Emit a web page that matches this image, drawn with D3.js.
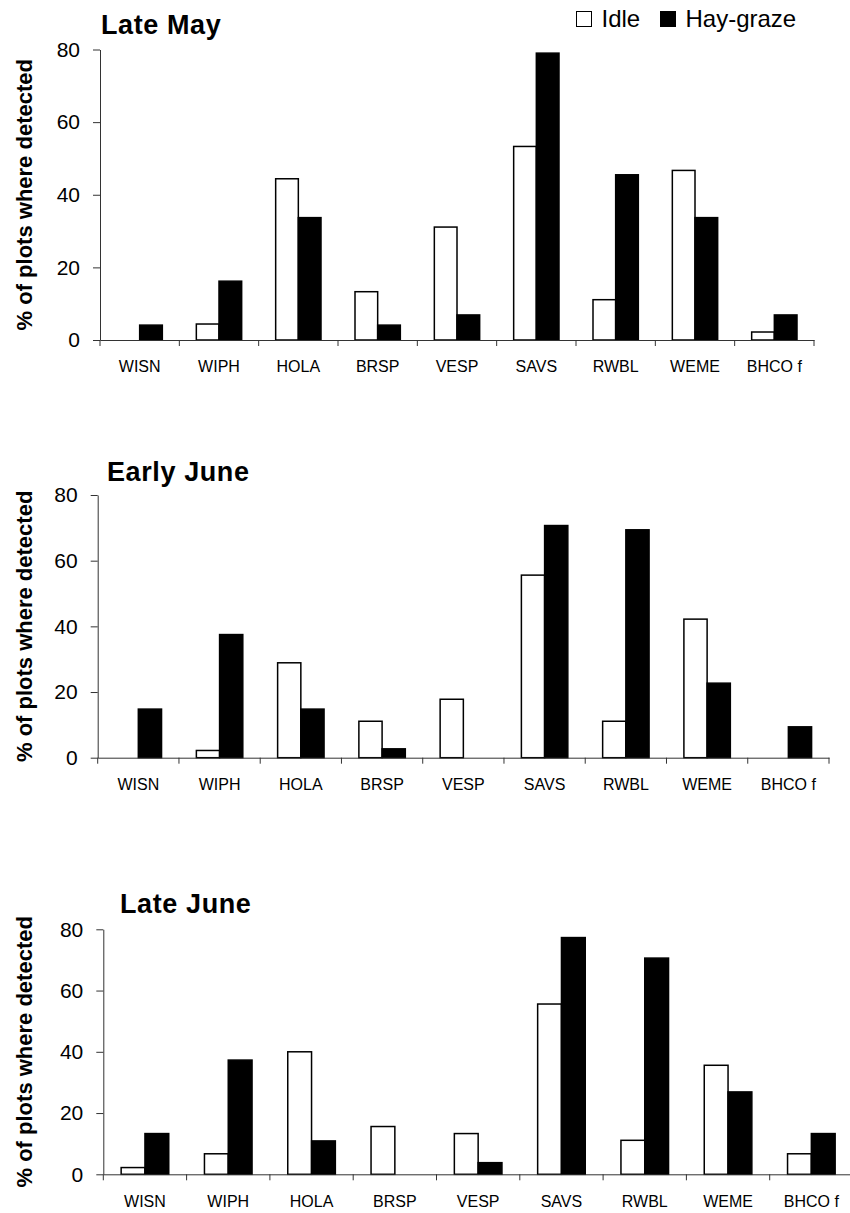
<!DOCTYPE html>
<html>
<head>
<meta charset="utf-8">
<script src="https://cdn.jsdelivr.net/npm/d3@7"></script>
<style>
  html, body { margin: 0; padding: 0; background: #fff; }
  svg { display: block; font-family: "Liberation Sans", Arial, Helvetica, sans-serif; }
</style>
</head>
<body>
<svg id="chart" width="850" height="1213"></svg>
<script>
// Species codes along the x axis
const species = ["WISN", "WIPH", "HOLA", "BRSP", "VESP", "SAVS", "RWBL", "WEME", "BHCO f"];
const treatments = ["Idle", "Hay-graze"];
const yTicks = [0, 20, 40, 60, 80];

// % of plots where each species was detected, per survey period
const lateMayIdle = [0, 4.4, 44.4, 13.3, 31.1, 53.3, 11.1, 46.7, 2.2];
const lateMayHay = [4.1, 16.2, 33.7, 4.1, 6.9, 79.0, 45.5, 33.7, 6.9];

const earlyJuneIdle = [0, 2.2, 28.9, 11.1, 17.8, 55.6, 11.1, 42.2, 0];
const earlyJuneHay = [14.8, 37.5, 14.8, 2.7, 0, 70.7, 69.4, 22.7, 9.4];

const lateJuneIdle = [2.2, 6.7, 40.0, 15.6, 13.3, 55.6, 11.1, 35.6, 6.7];
const lateJuneHay = [13.3, 37.3, 10.9, 0, 3.8, 77.3, 70.6, 26.9, 13.3];

const periodTitles = ["Late May", "Early June", "Late June"];
const idleSeries = [lateMayIdle, earlyJuneIdle, lateJuneIdle];
const haySeries = [lateMayHay, earlyJuneHay, lateJuneHay];

// Panel frames (plot area edges in pixels)
const frames = [
  { left: 100, right: 814, top: 49.5, bottom: 340, titleX: 101, titleY: 34 },
  { left: 97.7, right: 829, top: 495, bottom: 757.7, titleX: 107, titleY: 481 },
  { left: 103.3, right: 853, top: 929.3, bottom: 1174.3, titleX: 120, titleY: 912.5 }
];

const svg = d3.select("#chart");
svg.append("rect").attr("width", 850).attr("height", 1213).attr("fill", "#fff");

const axisColor = "#333";

frames.forEach((f, i) => {
  const g = svg.append("g");
  const x = d3.scaleBand().domain(species).range([f.left, f.right]);
  const xInner = d3.scaleBand().domain(treatments).range([0, x.bandwidth()])
    .paddingInner(0).paddingOuter(0.75);
  const y = d3.scaleLinear().domain([0, 80]).range([f.bottom, f.top]);

  const rows = species.map((s, k) => ({ s, idle: idleSeries[i][k], hay: haySeries[i][k] }));

  // Idle bars (open)
  g.selectAll(".idle").data(rows.filter(d => d.idle > 0)).join("rect")
    .attr("x", d => x(d.s) + xInner("Idle"))
    .attr("y", d => y(d.idle))
    .attr("width", xInner.bandwidth())
    .attr("height", d => y(0) - y(d.idle))
    .attr("fill", "#fff")
    .attr("stroke", "#000")
    .attr("stroke-width", 1.5);

  // Hay-graze bars (solid)
  g.selectAll(".hay").data(rows.filter(d => d.hay > 0)).join("rect")
    .attr("x", d => x(d.s) + xInner("Hay-graze"))
    .attr("y", d => y(d.hay))
    .attr("width", xInner.bandwidth())
    .attr("height", d => y(0) - y(d.hay))
    .attr("fill", "#000")
    .attr("stroke", "#000")
    .attr("stroke-width", 1.5);

  // Y axis
  const yAxis = g.append("g")
    .attr("transform", `translate(${f.left},0)`)
    .call(d3.axisLeft(y).tickValues(yTicks).tickSize(7).tickPadding(13).tickSizeOuter(0));
  yAxis.select(".domain").attr("stroke", axisColor);
  yAxis.selectAll(".tick line").attr("stroke", axisColor);
  yAxis.selectAll(".tick text")
    .attr("fill", "#000")
    .style("font-size", "21px")
    .style("font-family", "\"Liberation Sans\", Arial, sans-serif");

  // X axis: labels centred under each species, ticks at category boundaries
  const xAxis = g.append("g")
    .attr("transform", `translate(0,${f.bottom})`)
    .call(d3.axisBottom(x).tickSize(0).tickPadding(21).tickSizeOuter(0));
  xAxis.select(".domain").attr("stroke", axisColor);
  xAxis.selectAll(".tick text")
    .attr("fill", "#000")
    .style("font-size", "16px")
    .style("font-family", "\"Liberation Sans\", Arial, sans-serif");

  const bounds = species.map(s => x(s)).concat([x.range()[1]]);
  g.append("g").selectAll("line").data(bounds).join("line")
    .attr("x1", d => d).attr("x2", d => d)
    .attr("y1", f.bottom).attr("y2", f.bottom + 6)
    .attr("stroke", axisColor)
    .attr("stroke-width", 1);

  // Panel title
  g.append("text")
    .attr("x", f.titleX)
    .attr("y", f.titleY)
    .attr("font-size", 27)
    .attr("font-weight", "bold")
    .attr("letter-spacing", 0.6)
    .attr("fill", "#000")
    .text(periodTitles[i]);

  // Y axis title
  const cy = (f.top + f.bottom) / 2;
  g.append("text")
    .attr("transform", `translate(32,${cy}) rotate(-90)`)
    .attr("text-anchor", "middle")
    .attr("font-size", 22)
    .attr("font-weight", "bold")
    .attr("fill", "#000")
    .text("% of plots where detected");
});

// Legend
const legend = svg.append("g");
const legendItems = [
  { label: treatments[0], fill: "#fff", x: 576.5 },
  { label: treatments[1], fill: "#000", x: 660.5 }
];
legendItems.forEach(d => {
  legend.append("rect")
    .attr("x", d.x).attr("y", 11.5)
    .attr("width", 15).attr("height", 15)
    .attr("fill", d.fill)
    .attr("stroke", "#000")
    .attr("stroke-width", 1);
  legend.append("text")
    .attr("x", d.x + 25)
    .attr("y", 27)
    .attr("font-size", 24)
    .attr("fill", "#000")
    .text(d.label);
});
</script>
</body>
</html>
